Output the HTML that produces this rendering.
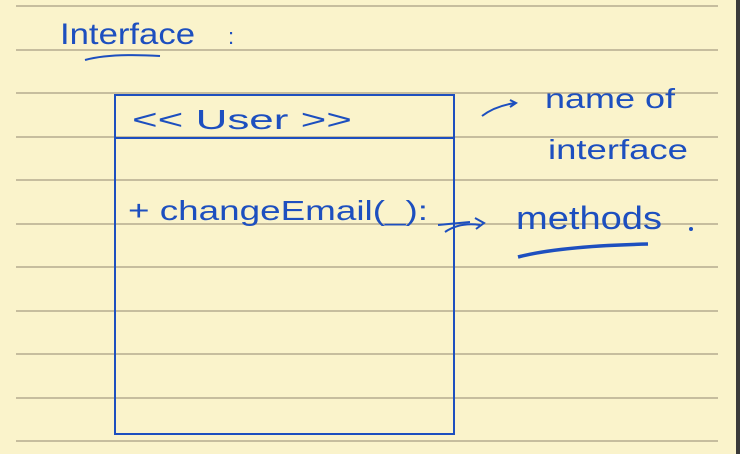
<!DOCTYPE html>
<html><head><meta charset="utf-8"><style>
html,body{margin:0;padding:0;width:740px;height:454px;overflow:hidden;background:#faf3cb}
svg{display:block}
text{font-family:"Liberation Sans",sans-serif;fill:#1d4fbf}
</style></head><body>
<svg width="740" height="454" viewBox="0 0 740 454" xmlns="http://www.w3.org/2000/svg">
<rect width="740" height="454" fill="#faf3cb"/>
<rect x="736" y="0" width="4" height="454" fill="#3a3a3a"/>
<g stroke="#a89d82" stroke-width="1.3">
<line x1="16" y1="6" x2="718" y2="6"/>
<line x1="16" y1="50" x2="718" y2="50"/>
<line x1="16" y1="93" x2="718" y2="93"/>
<line x1="16" y1="137" x2="718" y2="137"/>
<line x1="16" y1="180" x2="718" y2="180"/>
<line x1="16" y1="224" x2="718" y2="224"/>
<line x1="16" y1="267" x2="718" y2="267"/>
<line x1="16" y1="311" x2="718" y2="311"/>
<line x1="16" y1="354" x2="718" y2="354"/>
<line x1="16" y1="398" x2="718" y2="398"/>
<line x1="16" y1="441" x2="718" y2="441"/>
</g>
<g fill="none" stroke="#1d4fbf" stroke-width="2">
<rect x="115" y="95" width="339" height="339"/>
<line x1="115" y1="138" x2="454" y2="138"/>
<path d="M85 60 Q110 53 160 56"/>
<path d="M482 116 Q495 106 515 103 M510 100 L516 103 L510 107"/>
<path d="M438 225 L470 222 M445 232 Q460 222 480 225 M475 218 L484 223 L476 229"/>
<path d="M518 257 Q560 246 648 244" stroke-width="3.5"/>
</g>
<g>
<text x="60" y="44" font-size="30" lengthAdjust="spacingAndGlyphs" textLength="135">Interface</text>
<text x="228" y="44" font-size="22">:</text>
<text x="132" y="129" font-size="28" lengthAdjust="spacingAndGlyphs" textLength="220">&lt;&lt;  User &gt;&gt;</text>
<text x="545" y="108" font-size="28" lengthAdjust="spacingAndGlyphs" textLength="130">name of</text>
<text x="548" y="159" font-size="28" lengthAdjust="spacingAndGlyphs" textLength="140">interface</text>
<text x="128" y="220" font-size="28" lengthAdjust="spacingAndGlyphs" textLength="300">+ changeEmail(_):</text>
<text x="516" y="229" font-size="32" lengthAdjust="spacingAndGlyphs" textLength="146">methods</text>
</g>
<circle cx="691" cy="229" r="2" fill="#1d4fbf"/>
</svg>
</body></html>
